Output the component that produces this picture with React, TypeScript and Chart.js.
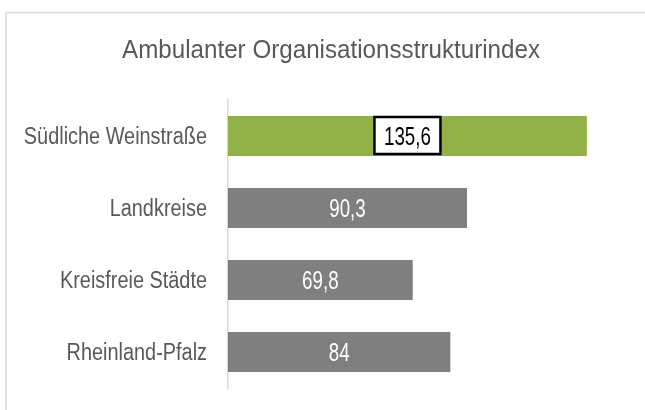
import React, { useEffect, useRef } from "react";
import { Chart, registerables } from "chart.js";

Chart.register(...registerables);

const TITLE = "Ambulanter Organisationsstrukturindex";
const categories = ["Südliche Weinstraße", "Landkreise", "Kreisfreie Städte", "Rheinland-Pfalz"];
const values = [135.6, 90.3, 69.8, 84];
const barColors = ["#92b247", "#7f7f7f", "#7f7f7f", "#7f7f7f"];
const boxedLabel = [true, false, false, false];

const FONT = "'Liberation Sans', Arial, sans-serif";

const fmt = (v: number) => String(v).replace(".", ",");

function drawText(
  ctx: CanvasRenderingContext2D,
  text: string,
  x: number,
  yCenter: number,
  size: number,
  sx: number,
  align: CanvasTextAlign,
  color: string
) {
  ctx.save();
  ctx.font = `${size}px ${FONT}`;
  ctx.fillStyle = color;
  ctx.textAlign = align;
  ctx.textBaseline = "alphabetic";
  ctx.translate(x, yCenter + (0.716 * size) / 2);
  ctx.scale(sx, 1);
  ctx.fillText(text, 0, 0);
  ctx.restore();
}

const decor = {
  id: "decor",
  beforeDraw(chart: any) {
    const ctx = chart.ctx;
    ctx.save();
    ctx.strokeStyle = "#d9d9d9";
    ctx.lineWidth = 1.5;
    ctx.beginPath();
    ctx.moveTo(6, 410);
    ctx.lineTo(6, 12.5);
    ctx.lineTo(645, 12.5);
    ctx.stroke();
    ctx.restore();
    drawText(ctx, TITLE, 331, 48.8, 26, 0.93, "center", "#595959");
  },
  afterDraw(chart: any) {
    const ctx = chart.ctx;
    const yScale = chart.scales.y;
    categories.forEach((c, i) => {
      const y = yScale.getPixelForValue(i);
      drawText(ctx, c, yScale.right - 21, y, 23, 0.865, "right", "#595959");
    });
  },
  afterDatasetsDraw(chart: any) {
    const ctx = chart.ctx;
    const meta = chart.getDatasetMeta(0);
    meta.data.forEach((bar: any, i: number) => {
      const x = (bar.x + bar.base) / 2;
      const y = bar.y;
      const text = fmt(values[i]);
      let color = "#ffffff";
      if (boxedLabel[i]) {
        const w = 66;
        const h = 37;
        ctx.save();
        ctx.fillStyle = "#ffffff";
        ctx.fillRect(x - w / 2, y - h / 2 - 0.5, w, h);
        ctx.strokeStyle = "#000000";
        ctx.lineWidth = 2.5;
        ctx.strokeRect(x - w / 2, y - h / 2 - 0.5, w, h);
        ctx.restore();
        color = "#000000";
      }
      drawText(ctx, text, x, y, 25, 0.75, "center", color);
    });
  },
};

export default function App() {
  const ref = useRef<HTMLCanvasElement>(null);
  useEffect(() => {
    document.body.style.margin = "0";
    const chart = new Chart(ref.current!, {
      type: "bar",
      data: {
        labels: categories,
        datasets: [
          {
            data: values,
            backgroundColor: barColors,
            borderWidth: 0,
            categoryPercentage: 0.5556,
            barPercentage: 1,
          },
        ],
      },
      options: {
        indexAxis: "y",
        animation: false,
        responsive: false,
        maintainAspectRatio: false,
        layout: { padding: { top: 100, right: 20, bottom: 22, left: 0 } },
        plugins: { legend: { display: false }, tooltip: { enabled: false }, title: { display: false } },
        scales: {
          x: { display: false, min: 0, max: 150 },
          y: {
            afterFit: (s: any) => {
              s.width = 228;
            },
            grid: { display: false, drawTicks: false },
            border: { display: true, color: "#d9d9d9", width: 1.5 },
            ticks: { display: false },
          },
        },
      },
      plugins: [decor],
    });
    return () => chart.destroy();
  }, []);
  return (
    <div style={{ position: "absolute", left: 0, top: 0, width: 645, height: 410, background: "#fff" }}>
      <canvas ref={ref} width={645} height={410} style={{ width: 645, height: 410 }} />
    </div>
  );
}
